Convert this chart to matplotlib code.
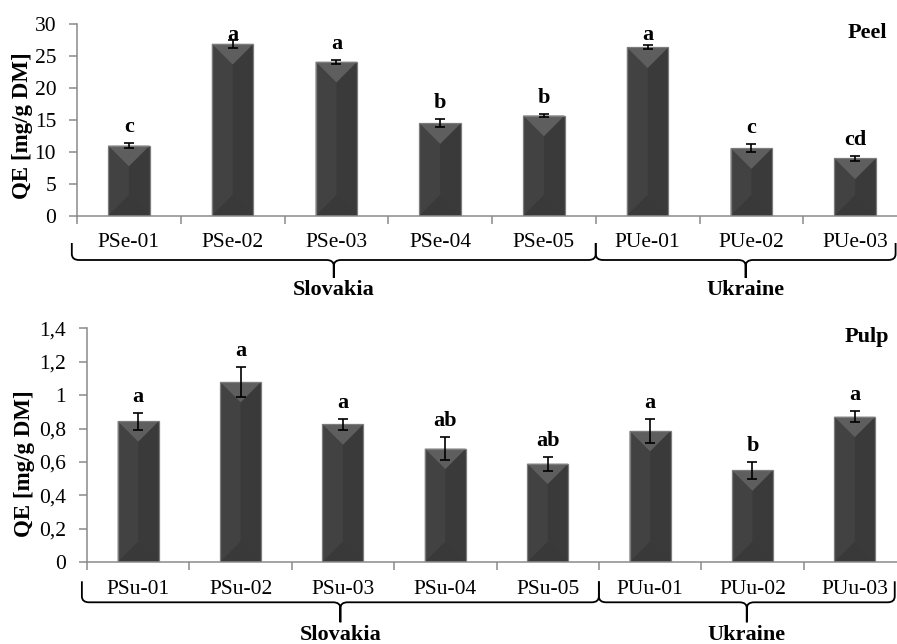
import matplotlib
matplotlib.use("Agg")
import matplotlib.pyplot as plt
from matplotlib.path import Path
from matplotlib.patches import PathPatch, Polygon, Rectangle
from matplotlib.transforms import blended_transform_factory
from matplotlib.ticker import FixedLocator, FuncFormatter, NullFormatter

plt.rcParams['font.family'] = ['Liberation Serif', 'DejaVu Serif']

# ---- values (QE, mg/g DM) ----
peel_names = ['PSe-01', 'PSe-02', 'PSe-03', 'PSe-04', 'PSe-05', 'PUe-01', 'PUe-02', 'PUe-03']
peel_qe = [11.0, 26.9, 24.1, 14.5, 15.7, 26.35, 10.6, 9.0]
peel_sd = [0.4, 0.6, 0.35, 0.6, 0.3, 0.3, 0.6, 0.35]
peel_groups = ['c', 'a', 'a', 'b', 'b', 'a', 'c', 'cd']

pulp_names = ['PSu-01', 'PSu-02', 'PSu-03', 'PSu-04', 'PSu-05', 'PUu-01', 'PUu-02', 'PUu-03']
pulp_qe = [0.844, 1.079, 0.826, 0.68, 0.59, 0.786, 0.55, 0.871]
pulp_sd = [0.05, 0.09, 0.033, 0.07, 0.042, 0.074, 0.05, 0.034]
pulp_groups = ['a', 'a', 'a', 'ab', 'ab', 'a', 'b', 'a']

countries = ['Slovakia', 'Ukraine']
country_sizes = [5, 3]

peel_ticks = [0, 5, 10, 15, 20, 25, 30]
pulp_ticks = [0, 0.2, 0.4, 0.6, 0.8, 1.0, 1.2, 1.4]

W, H = 897, 644
fig = plt.figure(figsize=(W / 100, H / 100), dpi=100)

GRAY = '#8a8a8a'


def px_to_axes_y(ax, px):
    """pixel distance below the x axis -> axes fraction"""
    return -px / (ax.get_position().height * H)


def bevel(ax, bars):
    inv = ax.transData.inverted()
    for b in bars:
        x0, w, h = b.get_x(), b.get_width(), b.get_height()
        xc = x0 + w / 2
        p0 = ax.transData.transform((x0, h))
        p1 = ax.transData.transform((x0 + w, h))
        half = (p1[0] - p0[0]) / 2
        depth = h - inv.transform((p0[0], p0[1] - half))[1]
        depth = min(depth, h / 2)
        # lit left half, top chevron and a faint bottom face
        ax.add_patch(Polygon([(x0, 0), (xc, depth), (xc, h - depth), (x0, h)],
                             facecolor='#424242', edgecolor='none', zorder=2.2))
        ax.add_patch(Polygon([(x0, 0), (x0 + w, 0), (xc, depth)],
                             facecolor='#393939', edgecolor='none', zorder=2.2))
        ax.add_patch(Polygon([(x0, h), (x0 + w, h), (xc, h - depth)],
                             facecolor='#5e5e5e', edgecolor='none', zorder=2.3))
        ax.add_patch(Rectangle((x0, 0), w, h, fill=False, edgecolor='#7c7c7c',
                               linewidth=0.9, zorder=2.5))


def brace(ax, x0, x1, arm_top, line_y, tip_y, r=0.07):
    """curly brace under the axis; y values are pixels below the axis"""
    trans = blended_transform_factory(ax.transData, ax.transAxes)
    a = px_to_axes_y(ax, arm_top)
    l = px_to_axes_y(ax, line_y)
    t = px_to_axes_y(ax, tip_y)
    lr = px_to_axes_y(ax, line_y - 6)
    lt = px_to_axes_y(ax, line_y + 6)
    xc = (x0 + x1) / 2
    verts = [(x0, a), (x0, lr), (x0, l), (x0 + r, l),
             (xc - r, l), (xc, l), (xc, lt),
             (xc, t), (xc, t), (xc, lt), (xc, l), (xc + r, l),
             (x1 - r, l), (x1, l), (x1, lr), (x1, a)]
    codes = [Path.MOVETO, Path.LINETO, Path.CURVE3, Path.CURVE3,
             Path.LINETO, Path.CURVE3, Path.CURVE3,
             Path.LINETO, Path.MOVETO, Path.LINETO, Path.CURVE3, Path.CURVE3,
             Path.LINETO, Path.CURVE3, Path.CURVE3, Path.LINETO]
    ax.add_patch(PathPatch(Path(verts, codes), transform=trans, fill=False,
                           edgecolor='black', linewidth=1.3, clip_on=False))


def panel(rect, names, vals, sd, groups, ticks, fmt, title, ylab_pos, geom):
    ax = fig.add_axes(rect)
    n = len(names)
    x = list(range(n))
    ax.set_xlim(-0.5, n - 0.5)
    ax.set_ylim(ticks[0], ticks[-1])

    bars = ax.bar(x, vals, width=0.4, color='#3a3a3a', edgecolor='none', zorder=2)
    bevel(ax, bars)
    ax.errorbar(x, vals, yerr=sd, fmt='none', ecolor='black', elinewidth=1.2,
                capsize=3.3, capthick=1.2, zorder=4)

    # significance letters, kept under the top of the plot area
    inv = ax.transData.inverted()
    cap = ax.get_ylim()[1] - (ax.get_ylim()[1] - ax.get_ylim()[0]) * 0.083
    for xi, v, e, g in zip(x, vals, sd, groups):
        d = ax.transData.transform((xi, v + e))
        y = inv.transform((d[0], d[1] + 11))[1]
        ax.text(xi, min(y, cap), g, ha='center', va='baseline',
                fontsize=16, fontweight='bold', zorder=5)

    for s in ('top', 'right'):
        ax.spines[s].set_visible(False)
    for s in ('left', 'bottom'):
        ax.spines[s].set_color(GRAY)
        ax.spines[s].set_linewidth(1.1)

    ax.set_yticks(ticks)
    ax.yaxis.set_major_formatter(FuncFormatter(fmt))
    ax.tick_params(axis='y', length=6, width=1.1, color=GRAY, pad=9,
                   labelsize=15.5)
    ax.xaxis.set_major_locator(FixedLocator(x))
    ax.set_xticklabels(names)
    ax.xaxis.set_minor_locator(FixedLocator([i - 0.5 for i in range(n + 1)]))
    ax.xaxis.set_minor_formatter(NullFormatter())
    ax.tick_params(axis='x', which='major', length=0, pad=geom['lab_pad'],
                   labelsize=15.5)
    ax.tick_params(axis='x', which='minor', length=6, width=1.1, color=GRAY)

    ax.set_ylabel('QE [mg/g DM]', fontsize=16.5, fontweight='bold')
    ax.yaxis.set_label_coords(*ylab_pos)

    ax.text(0.952, geom['title_y'], title, transform=ax.transAxes, ha='center',
            va='center', fontsize=16, fontweight='bold')

    # country braces and names
    edges = [-0.5]
    for c in country_sizes:
        edges.append(edges[-1] + c)
    edges[0] -= 0.05
    edges[-1] -= 0.11
    trans = blended_transform_factory(ax.transData, ax.transAxes)
    for name, a, b in zip(countries, edges[:-1], edges[1:]):
        brace(ax, a, b, geom['arm'], geom['line'], geom['tip'])
        ax.text((a + b) / 2, px_to_axes_y(ax, geom['name']), name,
                transform=trans, ha='center', va='center', fontsize=16,
                fontweight='bold')
    return ax


def fmt_peel(v, pos):
    return f'{v:g}'


def fmt_pulp(v, pos):
    return f'{v:g}'.replace('.', ',')


panel([77 / W, 1 - 216 / H, 830 / W, 192 / H], peel_names, peel_qe, peel_sd,
      peel_groups, peel_ticks, fmt_peel, 'Peel', (-0.053, 0.47),
      dict(lab_pad=12, title_y=0.953, arm=27, line=44, tip=62, name=74))

panel([87 / W, 1 - 562.3 / H, 819 / W, 234 / H], pulp_names, pulp_qe, pulp_sd,
      pulp_groups, pulp_ticks, fmt_pulp, 'Pulp', (-0.0635, 0.42),
      dict(lab_pad=13, title_y=0.963, arm=19, line=40, tip=60, name=73))

fig.savefig('out.png', dpi=100)
